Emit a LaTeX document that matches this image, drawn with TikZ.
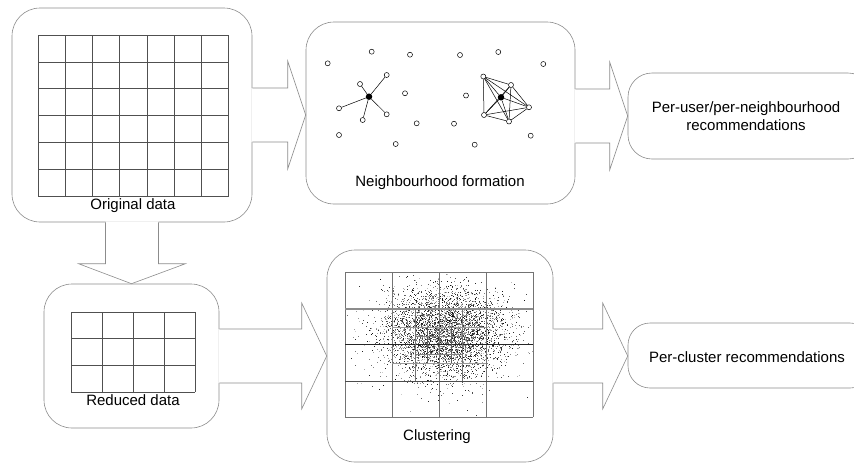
\documentclass[tikz,border=0pt]{standalone}
\usepackage{fontspec}
\setmainfont{Liberation Sans}
\usetikzlibrary{calc}
\definecolor{boxgray}{HTML}{8C8C8C}
\definecolor{gridgray}{HTML}{505050}
\begin{document}
\begin{tikzpicture}[x=1pt,y=-1pt,
  box/.style={draw=boxgray, line width=0.6pt, rounded corners=28pt, inner sep=0pt, fill=white},
  arrowline/.style={draw=boxgray, line width=0.6pt},
  gridline/.style={draw=gridgray, line width=0.5pt},
  lbl/.style={inner sep=0pt, font=\fontsize{15}{18}\selectfont, align=center},
  nbr/.style={circle, draw=black, fill=white, line width=0.5pt, inner sep=0pt, minimum size=5pt},
  ctr/.style={circle, fill=black, inner sep=0pt, minimum size=6.5pt},
  edge/.style={draw=black, line width=0.5pt}]
\useasboundingbox (0,0) rectangle (854,464);
\clip (0,0) rectangle (854,464);

% boxes
\node[box, minimum width=240pt, minimum height=214pt] (b1) at (132,115) {};
\node[box, minimum width=269pt, minimum height=182pt] (b2) at (440.5,113) {};
\node[box, rounded corners=24pt, minimum width=244pt, minimum height=86pt] (b3) at (750,116) {};
\node[box, minimum width=175pt, minimum height=144pt] (b4) at (131.5,356) {};
\node[box, minimum width=226pt, minimum height=212pt] (b5) at (440,356) {};
\node[box, rounded corners=22pt, minimum width=244pt, minimum height=65pt] (b6) at (750,355.5) {};

% block arrows
\path[fill=white] let \p1=(b1.east), \p2=(b2.west |- b1.east) in
  (\x1-1,\y1+27) -- (\x2-18,\y1+27) -- (\x2-18,\y1+54) -- (\x2,\y1) -- (\x2-18,\y1-54) -- (\x2-18,\y1-27) -- (\x1-1,\y1-27) -- cycle;
\draw[arrowline] let \p1=(b1.east), \p2=(b2.west |- b1.east) in
  (\x1,\y1+27) -- (\x2-18,\y1+27) -- (\x2-18,\y1+54) -- (\x2,\y1) -- (\x2-18,\y1-54) -- (\x2-18,\y1-27) -- (\x1,\y1-27);

\path[fill=white] let \p1=(b2.east |- b3.west), \p2=(b3.west) in
  (\x1-1,\y1+27) -- (\x2-18,\y1+27) -- (\x2-18,\y1+54) -- (\x2,\y1) -- (\x2-18,\y1-54) -- (\x2-18,\y1-27) -- (\x1-1,\y1-27) -- cycle;
\draw[arrowline] let \p1=(b2.east |- b3.west), \p2=(b3.west) in
  (\x1,\y1+27) -- (\x2-18,\y1+27) -- (\x2-18,\y1+54) -- (\x2,\y1) -- (\x2-18,\y1-54) -- (\x2-18,\y1-27) -- (\x1,\y1-27);

\path[fill=white] let \p1=(b4.east), \p2=(b5.west) in
  (\x1-1,\y1+27) -- (\x2-25,\y1+27) -- (\x2-25,\y1+53) -- (\x2,\y1) -- (\x2-25,\y1-53) -- (\x2-25,\y1-27) -- (\x1-1,\y1-27) -- cycle;
\draw[arrowline] let \p1=(b4.east), \p2=(b5.west) in
  (\x1,\y1+27) -- (\x2-25,\y1+27) -- (\x2-25,\y1+53) -- (\x2,\y1) -- (\x2-25,\y1-53) -- (\x2-25,\y1-27) -- (\x1,\y1-27);

\path[fill=white] let \p1=(b5.east), \p2=(b6.west) in
  (\x1-1,\y1+27) -- (\x2-25,\y1+27) -- (\x2-25,\y1+53) -- (\x2,\y1) -- (\x2-25,\y1-53) -- (\x2-25,\y1-27) -- (\x1-1,\y1-27) -- cycle;
\draw[arrowline] let \p1=(b5.east), \p2=(b6.west) in
  (\x1,\y1+27) -- (\x2-25,\y1+27) -- (\x2-25,\y1+53) -- (\x2,\y1) -- (\x2-25,\y1-53) -- (\x2-25,\y1-27) -- (\x1,\y1-27);

\path[fill=white] let \p1=(b1.south), \p2=(b4.north) in
  (\x1-26.5,\y1+1) -- (\x1-26.5,\y2+20) -- (\x1-53.5,\y2+20) -- (\x2,\y2) -- (\x1+53.5,\y2+20) -- (\x1+26.5,\y2+20) -- (\x1+26.5,\y1+1) -- cycle;
\draw[arrowline] let \p1=(b1.south), \p2=(b4.north) in
  (\x1-26.5,\y1) -- (\x1-26.5,\y2+20) -- (\x1-53.5,\y2+20) -- (\x2,\y2) -- (\x1+53.5,\y2+20) -- (\x1+26.5,\y2+20) -- (\x1+26.5,\y1);

% grid of original data
\foreach \i in {0,...,7} \draw[gridline] ({38+\i*27.24},35) -- ++(0,161);
\foreach \j in {0,...,6} \draw[gridline] (38,{35+\j*26.83}) -- ++(191,0);

% grid of reduced data
\foreach \i in {0,...,4} \draw[gridline] ({71+\i*31},312) -- ++(0,80);
\foreach \j in {0,...,3} \draw[gridline] (71,{312+\j*26.67}) -- ++(124,0);

% clustering scatter
\begin{scope}
\clip (345,272) rectangle (533,417);
\pgfmathsetseed{7}
\foreach \i in {1,...,4500}{
  \pgfmathsetmacro\myr{sqrt(-2*ln(0.0005+0.9995*rnd))}
  \pgfmathsetmacro\mya{360*rnd}
  \pgfmathsetmacro\myg{int(20+75*rnd)}
  \fill[black!\myg] ({445+31*\myr*cos(\mya)},{332+23*\myr*sin(\mya)}) rectangle ++(0.65,0.65);
}
\end{scope}
% clustering grids
\foreach \x in {345,392,439,486,533} \draw[draw=black!55, line width=0.6pt] (\x,272) -- (\x,417);
\draw[draw=black!55, line width=0.6pt] (345,272) -- (533,272);
\draw[draw=black!55, line width=0.6pt] (345,417) -- (533,417);
\draw[draw=black!45, line width=1.2pt] (345,309) -- (533,309);
\draw[draw=black!85, line width=0.7pt] (345,344.5) -- (533,344.5);
\draw[draw=black!70, line width=0.7pt] (345,381) -- (533,381);
\foreach \x in {415.5,462.5} \draw[draw=black!55, line width=0.5pt] (\x,309) -- (\x,381);
\foreach \y in {327,363} \draw[draw=black!40, line width=0.5pt] (392,\y) -- (486,\y);
\foreach \x in {427.25,450.75} \draw[draw=black!65, line width=0.5pt] (\x,327) -- (\x,363);
\foreach \y in {336,354} \draw[draw=black!50, line width=0.5pt] (415.5,\y) -- (462.5,\y);

% neighbourhood formation: isolated users
\foreach \p [count=\k] in {(327.7,63.3),(371.7,51.7),(410,54.7),(339,135),(395.7,144),(416.7,123.3),(405,93.3),(460,55),(498.3,52),(543.3,64),(466,95.5),(454,123.7),(474.7,144.7),(530.7,135.7)}
  \node[nbr] (u\k) at \p {};
% star neighbourhood
\node[ctr] (s0) at (369,96.7) {};
\node[nbr] (s1) at (360,84) {};
\node[nbr] (s2) at (386.7,75) {};
\node[nbr] (s3) at (339,108.3) {};
\node[nbr] (s4) at (362.7,120) {};
\node[nbr] (s5) at (386.7,114.3) {};
\foreach \k in {1,...,5} \draw[edge] (s0) -- (s\k);
% clique neighbourhood
\node[ctr] (c0) at (501,97.3) {};
\node[nbr] (c1) at (483.3,76.5) {};
\node[nbr] (c2) at (511,85) {};
\node[nbr] (c3) at (529,107.3) {};
\node[nbr] (c4) at (509,121.5) {};
\node[nbr] (c5) at (484,115) {};
\foreach \a/\b in {0/1,0/2,0/3,0/4,0/5,1/2,1/3,1/4,1/5,2/3,2/4,2/5,3/4,3/5,4/5}
  \draw[edge] (c\a) -- (c\b);

% labels
\node[lbl] (t1) at (133,205.5) {Original data};
\node[lbl] (t2) at (440,182.5) {Neighbourhood formation};
\node[lbl] (t3) at (746,116) {Per-user/per-neighbourhood\\recommendations};
\node[lbl] (t4) at (133,400) {Reduced data};
\node[lbl] (t5) at (437,436.5) {Clustering};
\node[lbl] (t6) at (747,357) {Per-cluster recommendations};
\end{tikzpicture}
\end{document}
